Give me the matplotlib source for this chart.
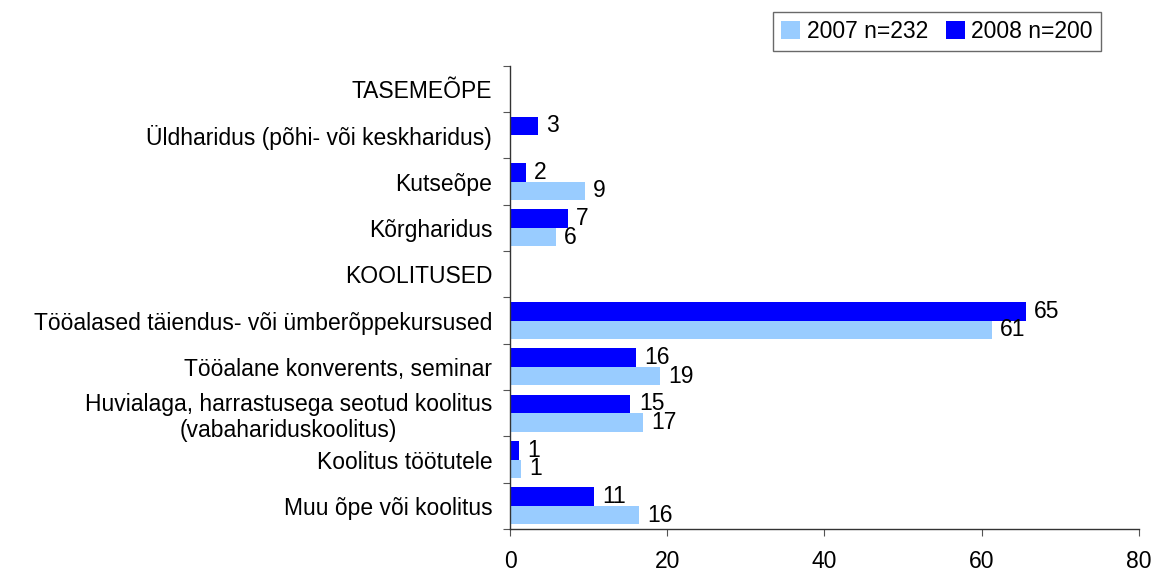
import matplotlib
matplotlib.use("Agg")
import matplotlib.pyplot as plt
import numpy as np

plt.rcParams['font.family'] = ['Liberation Sans', 'DejaVu Sans']

# DATA
categories = [
    "TASEMEÕPE",
    "Üldharidus (põhi- või keskharidus)",
    "Kutseõpe",
    "Kõrgharidus",
    "KOOLITUSED",
    "Tööalased täiendus- või ümberõppekursused",
    "Tööalane konverents, seminar",
    "Huvialaga, harrastusega seotud koolitus\n(vabahariduskoolitus)",
    "Koolitus töötutele",
    "Muu õpe või koolitus",
]
# None = no bar (section header rows)
vals_2007 = [None, None, 9.5, 5.8, None, 61.3, 19.1, 16.9, 1.4, 16.4]
vals_2008 = [None, 3.5, 2.0, 7.35, None, 65.6, 16.05, 15.3, 1.1, 10.7]
labels_2007 = [None, None, "9", "6", None, "61", "19", "17", "1", "16"]
labels_2008 = [None, "3", "2", "7", None, "65", "16", "15", "1", "11"]
series_names = ["2007 n=232", "2008 n=200"]
x_ticks = [0, 20, 40, 60, 80]

col_2007 = "#99CCFF"
col_2008 = "#0000FF"
fs = 16.5

fig = plt.figure(figsize=(11.55, 5.72), dpi=100)
ax = fig.add_axes([0.4418, 0.0752, 0.9859 - 0.4418, 0.885 - 0.0752])

y = np.arange(len(categories))
h = 0.4

v07 = np.array([np.nan if v is None else v for v in vals_2007])
v08 = np.array([np.nan if v is None else v for v in vals_2008])

b08 = ax.barh(y - h / 2, np.nan_to_num(v08), height=h, color=col_2008, label=series_names[1])
b07 = ax.barh(y + h / 2, np.nan_to_num(v07), height=h, color=col_2007, label=series_names[0])

#data labels
for i in range(len(categories)):
    if labels_2008[i] is not None:
        ax.annotate(labels_2008[i], (v08[i], y[i] - h / 2), xytext=(6, 0),
                    textcoords="offset points", va="center", ha="left", fontsize=fs)
    if labels_2007[i] is not None:
        ax.annotate(labels_2007[i], (v07[i], y[i] + h / 2), xytext=(6, 0),
                    textcoords="offset points", va="center", ha="left", fontsize=fs)

ax.set_xlim(0, 80)
ax.set_ylim(len(categories) - 0.5, -0.5)
ax.set_xticks(x_ticks)
ax.set_xticklabels([str(t) for t in x_ticks], fontsize=fs)

# tick marks between categories, labels at centers
ax.set_yticks(np.arange(len(categories) + 1) - 0.5)
ax.set_yticklabels([])
ax.set_yticks(y, minor=True)
ax.set_yticklabels(categories, minor=True, fontsize=fs)
for lab in ax.get_yticklabels(minor=True):
    lab.set_multialignment("center")
ax.tick_params(axis="y", which="minor", length=0, pad=13)
ax.tick_params(axis="y", which="major", length=5, direction="out", color="#555555")
ax.tick_params(axis="x", length=5, direction="out", color="#555555", pad=10)

for s in ["top", "right"]:
    ax.spines[s].set_visible(False)
for s in ["left", "bottom"]:
    ax.spines[s].set_color("#333333")
    ax.spines[s].set_linewidth(1)

leg = fig.legend([b07, b08], series_names, loc="upper right",
                 bbox_to_anchor=(1101 / 1155, 1 - 12 / 572), ncol=2, fontsize=fs,
                 frameon=True, fancybox=False, edgecolor="#444444",
                 handlelength=0.8, handleheight=0.8, handletextpad=0.3,
                 columnspacing=0.8, borderpad=0.35, borderaxespad=0)
leg.get_frame().set_linewidth(1)

fig.savefig("out.png", dpi=100)
